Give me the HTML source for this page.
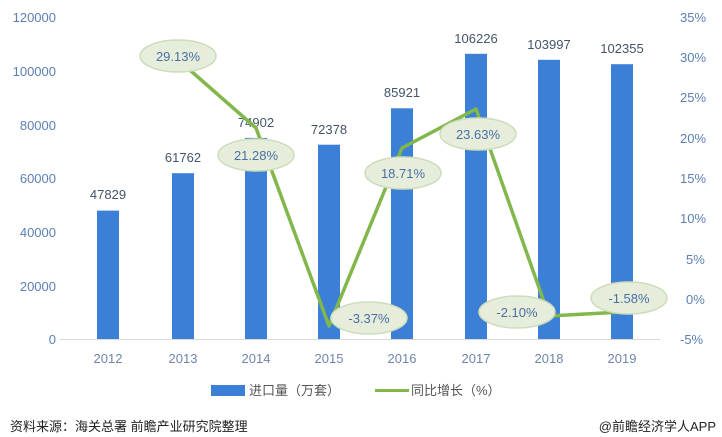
<!DOCTYPE html><html><head><meta charset="utf-8"><style>body{margin:0;background:#fff}svg{display:block}text{font-family:"Liberation Sans","Noto Sans CJK SC",sans-serif}</style></head><body>
<svg width="722" height="437" viewBox="0 0 722 437">
<g fill="#5b7fb5" font-size="13">
<text x="56" y="22" text-anchor="end">120000</text>
<text x="56" y="76" text-anchor="end">100000</text>
<text x="56" y="130" text-anchor="end">80000</text>
<text x="56" y="183" text-anchor="end">60000</text>
<text x="56" y="237" text-anchor="end">40000</text>
<text x="56" y="291" text-anchor="end">20000</text>
<text x="56" y="344" text-anchor="end">0</text>
<g text-anchor="start">
<text x="680" y="22">35%</text><text x="680" y="62">30%</text><text x="680" y="102">25%</text><text x="680" y="143">20%</text><text x="680" y="183">15%</text><text x="680" y="223">10%</text><text x="686" y="264">5%</text><text x="686" y="304">0%</text><text x="680" y="344">-5%</text>
</g>
<g text-anchor="middle" fill="#6f86a8">
<text x="108" y="363">2012</text><text x="183" y="363">2013</text><text x="256" y="363">2014</text><text x="329" y="363">2015</text><text x="402" y="363">2016</text><text x="476" y="363">2017</text><text x="549" y="363">2018</text><text x="622" y="363">2019</text>
</g></g>
<line x1="60" y1="339.5" x2="660" y2="339.5" stroke="#d9d9d9"/>
<g fill="#3b7fd6">
<rect x="97" y="210.6" width="22" height="128.4"/>
<rect x="172" y="173.2" width="22" height="165.8"/>
<rect x="245" y="137.9" width="22" height="201.1"/>
<rect x="318" y="144.7" width="22" height="194.3"/>
<rect x="391" y="108.3" width="22" height="230.7"/>
<rect x="465" y="53.8" width="22" height="285.2"/>
<rect x="538" y="59.8" width="22" height="279.2"/>
<rect x="611" y="64.2" width="22" height="274.8"/>
</g>
<g fill="#44546a" font-size="13" text-anchor="middle">
<text x="108" y="199">47829</text><text x="183" y="162">61762</text><text x="256" y="127">74902</text><text x="329" y="134">72378</text><text x="402" y="97">85921</text><text x="476" y="43">106226</text><text x="549" y="49">103997</text><text x="622" y="53">102355</text>
</g>
<polyline points="183,64 256,128 329,326 402,148 476,109 549,316 622,312" fill="none" stroke="#82b74b" stroke-width="3.5" stroke-linejoin="round"/>
<g fill="#e6eedb" stroke="#cddcbb" stroke-width="1.5">
<ellipse cx="178" cy="56" rx="38" ry="16"/>
<ellipse cx="256" cy="155" rx="38" ry="16"/>
<ellipse cx="369" cy="318" rx="38" ry="16"/>
<ellipse cx="403" cy="173" rx="38" ry="16"/>
<ellipse cx="478" cy="134" rx="38" ry="16"/>
<ellipse cx="517" cy="312" rx="38" ry="16"/>
<ellipse cx="629" cy="298" rx="38" ry="16"/>
</g>
<g fill="#4a6fa5" font-size="13" text-anchor="middle">
<text x="178" y="61">29.13%</text><text x="256" y="160">21.28%</text><text x="369" y="323">-3.37%</text><text x="403" y="178">18.71%</text><text x="478" y="139">23.63%</text><text x="517" y="317">-2.10%</text><text x="629" y="303">-1.58%</text>
</g>
<rect x="211" y="385" width="34" height="11" fill="#3b7fd6"/>
<text x="249" y="395" font-size="13" fill="#555">进口量（万套）</text>
<line x1="375" y1="390.5" x2="409" y2="390.5" stroke="#82b74b" stroke-width="3"/>
<text x="411" y="395" font-size="13" fill="#555">同比增长（%）</text>
<text x="10" y="431" font-size="13" fill="#222">资料来源：海关总署 前瞻产业研究院整理</text>
<text x="716" y="431" font-size="13" fill="#222" text-anchor="end">@前瞻经济学人APP</text>
</svg></body></html>
